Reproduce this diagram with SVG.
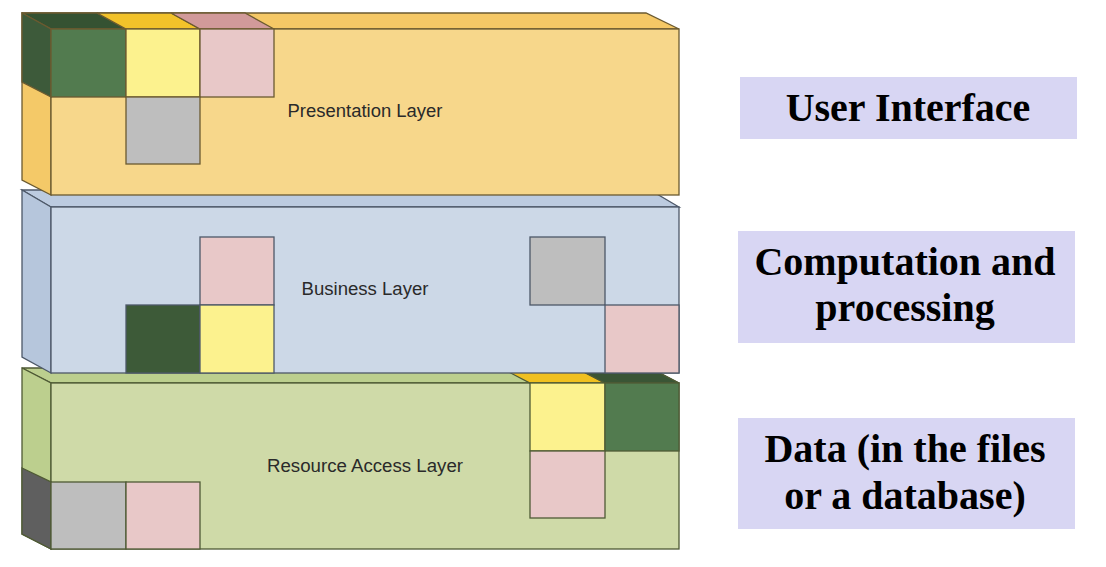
<svg xmlns="http://www.w3.org/2000/svg" width="1106" height="567" viewBox="0 0 1106 567">
<style>
.s{stroke-width:1.3;stroke-linejoin:miter}
.p{stroke:#6b5a30}
.b{stroke:#4d5868}
.r{stroke:#4f5a35}
.lbl{font-family:"Liberation Sans",Arial,sans-serif;font-size:17.5px;fill:#2a2a2a;text-anchor:middle}
.box{fill:#d8d6f3}
.bt{font-family:"Liberation Serif","Times New Roman",serif;font-weight:bold;font-size:40px;fill:#000;text-anchor:middle}
</style>
<rect width="1106" height="567" fill="#ffffff"/>

<g id="resource-layer">
  <polygon class="s r" points="22,368 650,368 679,383 51,383" fill="#bccf8e"/>
  <polygon class="s r" points="22,368 51,383 51,549 22,534" fill="#bccf8e"/>
  <rect class="s r" x="51" y="383" width="628" height="166" fill="#cfdaa8"/>
  <polygon class="s r" points="22,468 51,482 51,549 22,534" fill="#5f5f5f"/>
  <rect class="s r" x="51" y="482" width="75" height="67" fill="#bebebe"/>
  <rect class="s r" x="126" y="482" width="74" height="67" fill="#e8c8c8"/>
  <polygon class="s r" points="501,368 576,368 605,383 530,383" fill="#f0c020"/>
  <polygon class="s r" points="576,368 650,368 679,383 605,383" fill="#3a5535"/>
  <rect class="s r" x="530" y="383" width="75" height="68" fill="#fcf28e"/>
  <rect class="s r" x="605" y="383" width="74" height="68" fill="#527b4f"/>
  <rect class="s r" x="530" y="451" width="75" height="67" fill="#e8c8c8"/>
  <text class="lbl" x="365" y="472" textLength="196" lengthAdjust="spacingAndGlyphs">Resource Access Layer</text>
</g>

<g id="business-layer">
  <polygon class="s b" points="22,190 650,190 679,207 51,207" fill="#bccbe0"/>
  <polygon class="s b" points="22,190 51,207 51,373 22,357" fill="#b6c6dc"/>
  <rect class="s b" x="51" y="207" width="628" height="166" fill="#ccd8e7"/>
  <rect class="s b" x="200" y="237" width="74" height="68" fill="#e8c8c8"/>
  <rect class="s b" x="126" y="305" width="74" height="68" fill="#3d5a38"/>
  <rect class="s b" x="200" y="305" width="74" height="68" fill="#fcf28e"/>
  <rect class="s b" x="530" y="237" width="75" height="68" fill="#bebebe"/>
  <rect class="s b" x="605" y="305" width="74" height="68" fill="#e8c8c8"/>
  <text class="lbl" x="365" y="295" textLength="127" lengthAdjust="spacingAndGlyphs">Business Layer</text>
</g>

<g id="presentation-layer">
  <polygon class="s p" points="22,13 646,13 679,29 51,29" fill="#f5c866"/>
  <polygon class="s p" points="22,13 51,29 51,195 22,180" fill="#f4c968"/>
  <rect class="s p" x="51" y="29" width="628" height="166" fill="#f7d78b"/>
  <polygon class="s p" points="22,13 97,13 126,29 51,29" fill="#355232"/>
  <polygon class="s p" points="22,13 51,29 51,97 22,82" fill="#3d5a3a"/>
  <rect class="s p" x="51" y="29" width="75" height="68" fill="#527b4f"/>
  <polygon class="s p" points="97,13 171,13 200,29 126,29" fill="#f2c22a"/>
  <rect class="s p" x="126" y="29" width="74" height="68" fill="#fcf28e"/>
  <polygon class="s p" points="171,13 245,13 274,29 200,29" fill="#d19a9a"/>
  <rect class="s p" x="200" y="29" width="74" height="68" fill="#e8c8c8"/>
  <rect class="s p" x="126" y="97" width="74" height="67" fill="#bebebe"/>
  <text class="lbl" x="365" y="117" textLength="155" lengthAdjust="spacingAndGlyphs">Presentation Layer</text>
</g>

<g id="label-ui">
  <rect class="box" x="740" y="77" width="337" height="62"/>
  <text class="bt" x="908" y="121">User Interface</text>
</g>
<g id="label-computation">
  <rect class="box" x="738" y="231" width="337" height="112"/>
  <text class="bt" x="905" y="275">Computation and</text>
  <text class="bt" x="905" y="321">processing</text>
</g>
<g id="label-data">
  <rect class="box" x="738" y="418" width="337" height="111"/>
  <text class="bt" x="905" y="462">Data (in the files</text>
  <text class="bt" x="905" y="509">or a database)</text>
</g>
<g id="connectors"/>
</svg>
